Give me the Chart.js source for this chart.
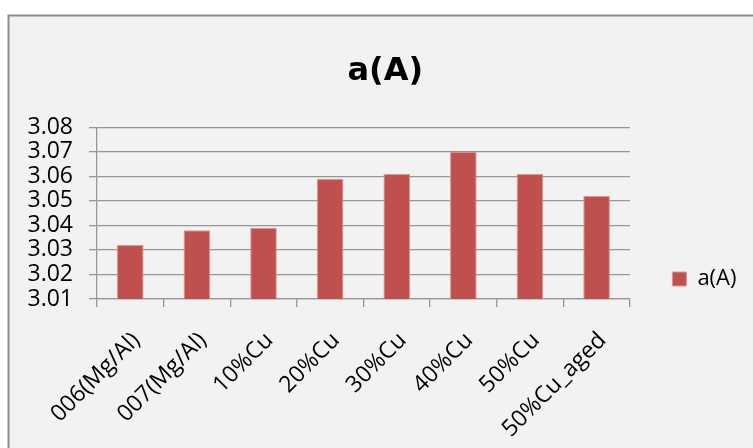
<!DOCTYPE html>
<html>
<head>
<meta charset="utf-8">
<title>a(A)</title>
<script src="https://cdn.jsdelivr.net/npm/chart.js@4/dist/chart.umd.min.js"></script>
<style>
  html, body { margin: 0; padding: 0; background: #ffffff; }
  canvas { display: block; }
</style>
</head>
<body>
<canvas id="chart" width="753" height="448"></canvas>
<script>
// Lattice parameter a (Å) per sample
const categories = ['006(Mg/Al)', '007(Mg/Al)', '10%Cu', '20%Cu', '30%Cu', '40%Cu', '50%Cu', '50%Cu_aged'];
const latticeA = [3.032, 3.038, 3.039, 3.059, 3.061, 3.070, 3.061, 3.052];
const seriesName = 'a(A)';
const yTicks = [3.01, 3.02, 3.03, 3.04, 3.05, 3.06, 3.07, 3.08];

const FONT_FAMILY = "'Open Sans', 'Liberation Sans', sans-serif";
const TICK_FONT = { family: FONT_FAMILY, size: 23 };
const LEGEND_FONT = { family: FONT_FAMILY, size: 22 };
const AXIS_GRAY = '#969696';

// Grey panel with a thin frame on its top and left edges
const chartFrame = {
  id: 'chartFrame',
  beforeDraw(chart) {
    const { ctx, width, height } = chart;
    ctx.save();
    ctx.fillStyle = '#ffffff';
    ctx.fillRect(0, 0, width, height);
    ctx.fillStyle = '#f2f2f2';
    ctx.fillRect(8, 15, width - 8, height - 15);
    ctx.strokeStyle = '#8c8c8c';
    ctx.lineWidth = 2;
    ctx.beginPath();
    ctx.moveTo(8.5, height);
    ctx.lineTo(8.5, 15.5);
    ctx.lineTo(width, 15.5);
    ctx.stroke();
    ctx.restore();
  }
};

// Nudge the title right (centred on the panel) and lower the legend
// so it sits level with the middle of plot + category labels
const TITLE_SHIFT = 12;
const LEGEND_DROP = 55;
const blockPlacement = {
  id: 'blockPlacement',
  afterLayout(chart) {
    const tb = chart.titleBlock;
    if (tb) { tb.left += TITLE_SHIFT; tb.right += TITLE_SHIFT; }
    const lg = chart.legend;
    if (lg) { lg.top += LEGEND_DROP; lg.bottom += LEGEND_DROP; }
  }
};

new Chart(document.getElementById('chart'), {
  type: 'bar',
  data: {
    labels: categories,
    datasets: [{
      label: seriesName,
      data: latticeA,
      backgroundColor: '#c0504d',
      borderColor: '#dc9896',
      borderWidth: 1,
      barPercentage: 0.4,
      categoryPercentage: 1.0
    }]
  },
  options: {
    responsive: false,
    animation: false,
    devicePixelRatio: 1,
    layout: { padding: { left: 0, right: 6.5, top: 0, bottom: 0 } },
    plugins: {
      title: {
        display: true,
        text: seriesName,
        color: '#000000',
        font: { family: "'DejaVu Sans', sans-serif", size: 32, weight: 'bold', lineHeight: 1.2 },
        padding: { top: 52.8, bottom: 36.1 }
      },
      legend: {
        position: 'right',
        align: 'center',
        labels: {
          boxWidth: 14,
          boxHeight: 14,
          padding: 42.5,
          color: '#000000',
          font: LEGEND_FONT
        }
      },
      tooltip: { enabled: false }
    },
    scales: {
      x: {
        grid: {
          offset: true,
          drawOnChartArea: false,
          drawTicks: true,
          tickLength: 8,
          color: AXIS_GRAY,
          lineWidth: 1.3
        },
        border: { display: true, color: AXIS_GRAY, width: 1.3 },
        ticks: {
          autoSkip: false,
          maxRotation: 45,
          minRotation: 45,
          padding: 20,
          labelOffset: 6,
          color: '#000000',
          font: TICK_FONT
        },
        afterFit(scale) { scale.height = 149; }
      },
      y: {
        min: yTicks[0],
        max: yTicks[yTicks.length - 1],
        afterBuildTicks(scale) { scale.ticks = yTicks.map(v => ({ value: v })); },
        ticks: {
          autoSkip: false,
          padding: 16,
          color: '#000000',
          font: TICK_FONT,
          callback: v => Number(v).toFixed(2)
        },
        grid: {
          color: AXIS_GRAY,
          lineWidth: 1.3,
          drawTicks: true,
          tickLength: 8
        },
        border: { display: true, color: AXIS_GRAY, width: 1.3 },
        afterFit(scale) { scale.width = 97; }
      }
    }
  },
  plugins: [chartFrame, blockPlacement]
});
</script>
</body>
</html>
